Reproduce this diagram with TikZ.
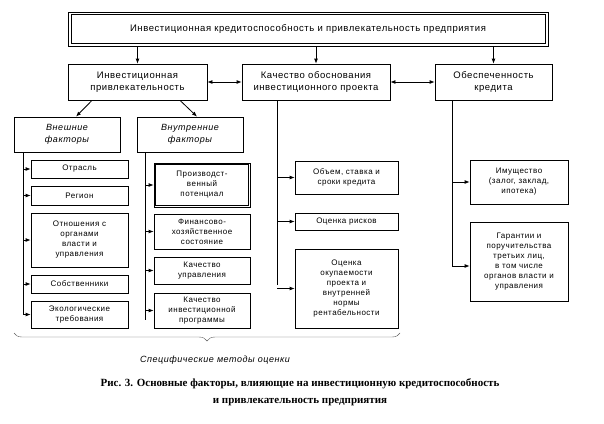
\documentclass[tikz,border=0pt]{standalone}
\usepackage{fontspec}
\setmainfont{Liberation Serif}
\newfontfamily\sfx{Liberation Sans}[LetterSpace=6]
\usetikzlibrary{arrows.meta,decorations.pathreplacing}
\begin{document}
\begin{tikzpicture}[x=1pt,y=-1pt,
  box/.style={draw,thick,inner sep=1pt,align=center,font=\sfx\fontsize{8}{10}\selectfont},
  hbox/.style={box,font=\sfx\fontsize{9.5}{12}\selectfont},
  ibox/.style={box,font=\sfx\itshape\fontsize{9}{11.5}\selectfont},
  arr/.style={-{Latex[length=5pt,width=4pt]},thick},
  darr/.style={{Latex[length=5pt,width=4pt]}-{Latex[length=5pt,width=4pt]},thick}]
\useasboundingbox (0,0) rectangle (604,423);
\newcommand{\bx}[7]{\node[#1,minimum width=#4-#3,minimum height=#6-#5] (#2) at ({(#3+#4)/2},{(#5+#6)/2}) {#7};}
% top
\node[draw,thick,minimum width=480,minimum height=34] (topo) at (308,29) {};
\node[draw,thick,minimum width=474,minimum height=29,font=\sfx\fontsize{9.5}{12}\selectfont] (top) at (308,29) {Инвестиционная кредитоспособность и привлекательность предприятия};
\bx{hbox}{ip}{68}{207}{64}{100}{Инвестиционная\\привлекательность}
\bx{hbox}{kp}{242}{390}{64}{100}{Качество обоснования\\инвестиционного проекта}
\bx{hbox}{ok}{435}{552}{64}{100}{Обеспеченность\\кредита}
\draw[arr] (topo.south -| ip) -- (ip.north);
\draw[arr] (topo.south -| kp) -- (kp.north);
\draw[arr] (topo.south -| ok) -- (ok.north);
\draw[darr] (ip.east) -- (kp.west);
\draw[darr] (kp.east) -- (ok.west);
\bx{ibox}{vn}{14}{120}{117}{152}{Внешние\\факторы}
\bx{ibox}{vt}{137}{243}{117}{152}{Внутренние\\факторы}
\draw[arr] (ip.south -| 92,0) -- (vn.north -| 76,0);
\draw[arr] (ip.south -| 180,0) -- (vt.north -| 197,0);
% external
\bx{box}{e1}{31}{128}{160}{178}{Отрасль}
\bx{box}{e2}{31}{128}{186}{205}{Регион}
\bx{box}{e3}{31}{128}{213}{267}{Отношения с\\органами\\власти и\\управления}
\bx{box}{e4}{31}{128}{275}{293}{Собственники}
\bx{box}{e5}{31}{128}{301}{328}{Экологические\\требования}
\coordinate (te) at (23,152);
\draw[thick] (te) -- (23,315);
\foreach \n in {e1,e2,e3,e4,e5} \draw[arr] (te |- \n.west) -- (\n.west);
% internal
\bx{box}{i1}{154}{250}{163}{207}{Производст-\\венный\\потенциал}
\draw[thick] ([shift={(2,2)}]i1.north west) rectangle ([shift={(-2,-2)}]i1.south east);
\bx{box}{i2}{154}{250}{214}{249}{Финансово-\\хозяйственное\\состояние}
\bx{box}{i3}{154}{250}{257}{284}{Качество\\управления}
\bx{box}{i4}{154}{250}{293}{328}{Качество\\инвестиционной\\программы}
\coordinate (ti) at (145,152);
\draw[thick] (ti) -- (145,320);
\foreach \n in {i1,i2,i3,i4} \draw[arr] (ti |- \n.west) -- (\n.west);
% project
\bx{box}{p1}{295}{398}{161}{194}{Объем, ставка и\\сроки кредита}
\bx{box}{p2}{295}{398}{213}{230}{Оценка рисков}
\bx{box}{p3}{295}{398}{249}{328}{Оценка\\окупаемости\\проекта и\\внутренней\\нормы\\рентабельности}
\coordinate (tp) at (277,100);
\draw[thick] (tp) -- (277,285);
\foreach \n in {p1,p2,p3} \draw[arr] (tp |- \n.west) -- (\n.west);
% credit
\bx{box}{c1}{470}{568}{160}{204}{Имущество\\(залог, заклад,\\ипотека)}
\bx{box}{c2}{470}{568}{222}{301}{Гарантии и\\поручительства\\третьих лиц,\\в том числе\\органов власти и\\управления}
\coordinate (tc) at (452,100);
\draw[thick] (tc) -- (452,266);
\draw[arr] (tc |- 0,182) -- (c1.west |- 0,182);
\draw[arr] (tc |- 0,266) -- (c2.west |- 0,266);
% brace
\coordinate (b1) at (400,333);
\coordinate (b2) at (14,333);
\draw[decorate,decoration={brace,amplitude=8pt},gray!70!black] (b1) -- (b2);
\node[font=\sfx\itshape\fontsize{9}{11}\selectfont] (lab) at (215,360) {Специфические методы оценки};
\node[align=center,font=\bfseries\fontsize{11}{17}\selectfont] (cap) at (300,392) {Рис. 3. Основные факторы, влияющие на инвестиционную кредитоспособность\\и привлекательность предприятия};
\end{tikzpicture}
\end{document}
